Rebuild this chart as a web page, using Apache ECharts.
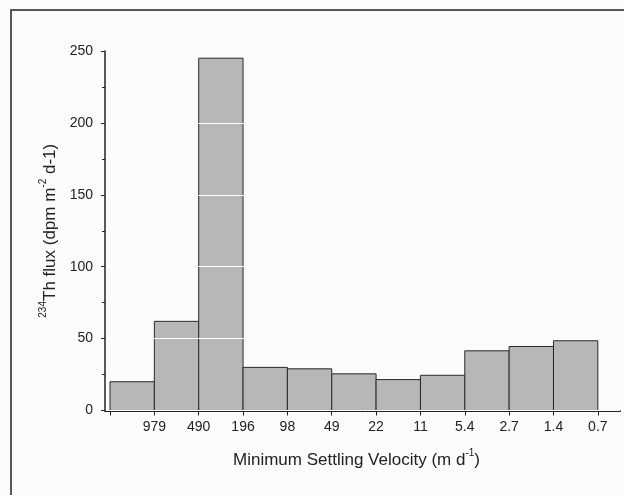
<!DOCTYPE html>
<html><head><meta charset="utf-8">
<script src="https://cdn.jsdelivr.net/npm/echarts@6/dist/echarts.min.js"></script>
<style>html,body{margin:0;padding:0;background:#fbfbfb}#c{width:624px;height:495px}</style>
</head><body><div id="c"></div>
<script>
var binLabels = ['979','490','196','98','49','22','11','5.4','2.7','1.4','0.7'];
var fluxValues = [20, 62, 245, 30, 29, 25.5, 21.5, 24.5, 41.5, 44.5, 48.5];
var yTicks = [0, 50, 100, 150, 200, 250];

var barData = fluxValues.map(function(v, i){ return [i, v]; });
var tickPos = []; for (var i = 0; i <= fluxValues.length; i++) tickPos.push(i);
var labelPos = tickPos.slice(1);

var chart = echarts.init(document.getElementById('c'), null, {renderer:'canvas'});
var font = 'Liberation Sans, Arial, sans-serif';
chart.setOption({
  backgroundColor: '#fbfbfb',
  animation: false,
  graphic: [{
    type: 'rect', z: 100,
    shape: {x: 11, y: 10, width: 700, height: 600},
    style: {fill: 'none', stroke: '#222', lineWidth: 1.5}
  }],
  grid: {left: 105, right: 4, top: 51, bottom: 84.5, containLabel: false},
  xAxis: {
    type: 'value', min: -0.113, max: 11.5,
    axisLine: {show: true, onZero: false, lineStyle: {color: '#222', width: 2}},
    axisTick: {show: true, length: 5, customValues: tickPos, lineStyle: {color: '#222', width: 1}},
    axisLabel: {customValues: labelPos, margin: 10, color: '#222', fontSize: 14, fontFamily: font,
      formatter: function(v){ return binLabels[Math.round(v) - 1] || ''; }},
    splitLine: {show: false},
    name: '{n|Minimum Settling Velocity (m d}{s|-1}{n|)}',
    nameLocation: 'middle', nameGap: 38,
    nameTextStyle: {padding: [0, 12, 0, 0], rich: {
      n: {fontSize: 17, fontFamily: font, color: '#222', lineHeight: 20, verticalAlign: 'bottom'},
      s: {fontSize: 10, fontFamily: font, color: '#222', lineHeight: 11, verticalAlign: 'top'}
    }}
  },
  yAxis: {
    type: 'value', min: 0, max: 250, interval: 50, z: 5,
    axisLine: {show: true, onZero: false, lineStyle: {color: '#222', width: 1.5}},
    axisTick: {show: true, length: 4, lineStyle: {color: '#222'}},
    minorTick: {show: true, splitNumber: 2, length: 3, lineStyle: {color: '#222'}},
    axisLabel: {margin: 12, color: '#222', fontSize: 14, fontFamily: font},
    splitLine: {show: true, lineStyle: {color: '#ffffff', width: 1}},
    name: '{s|234}{n|Th flux (dpm m}{s|-2}{n| d-1)}',
    nameLocation: 'middle', nameGap: 39, nameRotate: 90,
    nameTextStyle: {rich: {
      n: {fontSize: 17, fontFamily: font, color: '#222', lineHeight: 20, verticalAlign: 'bottom'},
      s: {fontSize: 10, fontFamily: font, color: '#222', lineHeight: 11, verticalAlign: 'top'}
    }}
  },
  series: [{
    type: 'custom',
    z: 2,
    data: barData,
    renderItem: function(params, api){
      var i = api.value(0), v = api.value(1);
      var p0 = api.coord([i, v]);
      var p1 = api.coord([i + 1, 0]);
      return {
        type: 'rect',
        shape: {x: p0[0], y: p0[1], width: p1[0] - p0[0], height: p1[1] - p0[1]},
        style: {fill: '#b7b7b7', stroke: '#2a2a2a', lineWidth: 1}
      };
    }
  }]
});
</script></body></html>
